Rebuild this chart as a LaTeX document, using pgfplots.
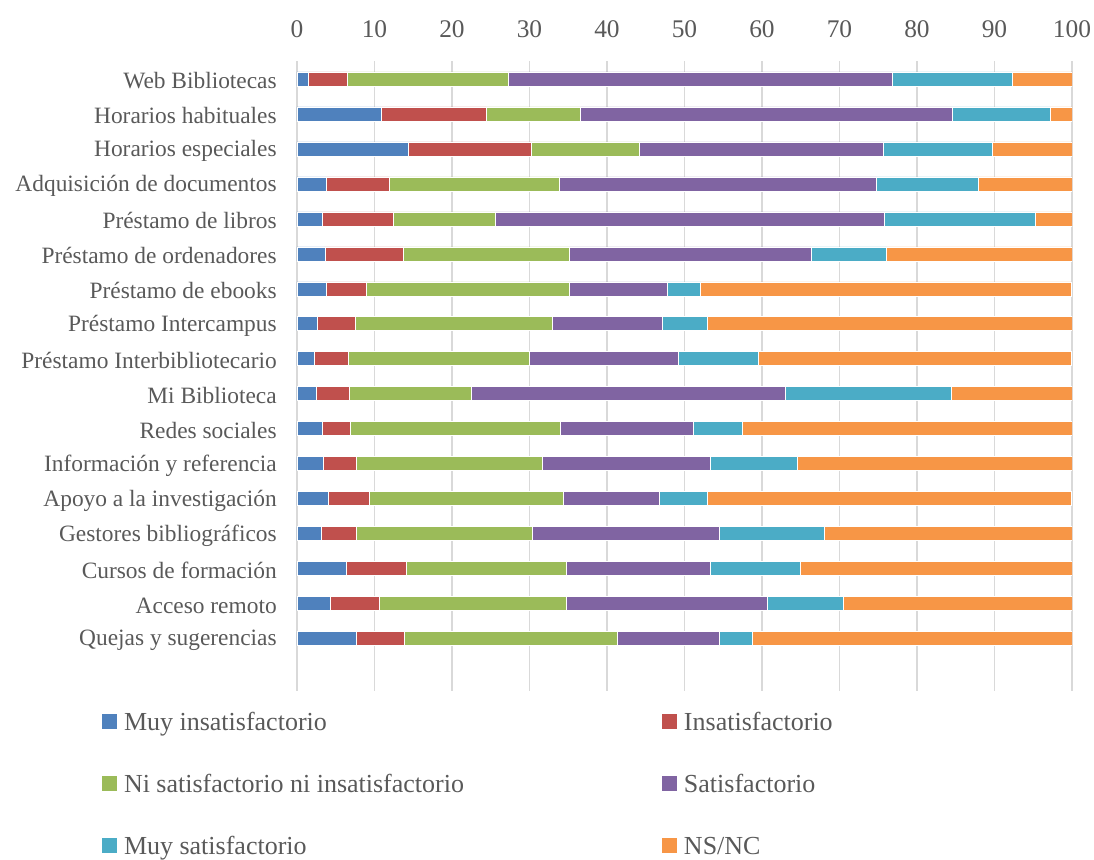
\documentclass[border=0pt]{standalone}
\usepackage{fontspec}
\setmainfont{Liberation Serif}
\usepackage{pgfplots}
\usepackage{pgfplotstable}
\pgfplotsset{compat=1.18}

\definecolor{cMI}{HTML}{4F81BD}
\definecolor{cIN}{HTML}{C0504D}
\definecolor{cNI}{HTML}{9BBB59}
\definecolor{cSA}{HTML}{8064A2}
\definecolor{cMS}{HTML}{4BACC6}
\definecolor{cNS}{HTML}{F79646}
\definecolor{txtgray}{HTML}{595959}
\definecolor{gridgray}{HTML}{D9D9D9}

% percentages per service, top to bottom
\pgfplotstableread{
idx mi   in   ni   sa   ms   ns
0   1.5  5.0  20.8 49.5 15.5 7.7
1   10.9 13.5 12.2 47.9 12.7 2.8
2   14.4 15.8 14.0 31.4 14.1 10.3
3   3.8  8.1  22.0 40.9 13.1 12.1
4   3.3  9.1  13.2 50.2 19.5 4.7
5   3.6  10.1 21.5 31.1 9.8  23.9
6   3.8  5.2  26.2 12.6 4.3  47.8
7   2.6  4.9  25.4 14.2 5.9  47.0
8   2.2  4.4  23.4 19.2 10.3 40.4
9   2.5  4.2  15.8 40.5 21.4 15.6
10  3.3  3.6  27.1 17.2 6.2  42.6
11  3.4  4.2  24.1 21.6 11.2 35.5
12  4.0  5.3  25.1 12.4 6.1  47.0
13  3.1  4.6  22.6 24.2 13.6 31.9
14  6.4  7.7  20.7 18.5 11.7 35.0
15  4.3  6.3  24.2 25.9 9.8  29.5
16  7.6  6.3  27.4 13.2 4.3  41.2
}\datos

\newcommand{\leg}[1]{\makebox[269pt][l]{#1}}

\begin{document}
\begin{tikzpicture}
\useasboundingbox (-148.5pt,-84.5pt) rectangle (398.5pt,345.5pt);
\begin{axis}[
  scale only axis, width=387.5pt, height=314.75pt,
  xbar stacked, bar width=7pt,
  xmin=0, xmax=100, ymin=-0.5, ymax=17.5, y dir=reverse,
  xtick={0,10,...,100}, xticklabel pos=upper,
  ytick={0,...,16},
  yticklabels={Web Bibliotecas, Horarios habituales, Horarios especiales,
    Adquisición de documentos, Préstamo de libros, Préstamo de ordenadores,
    Préstamo de ebooks, Préstamo Intercampus, Préstamo Interbibliotecario,
    Mi Biblioteca, Redes sociales, Información y referencia,
    Apoyo a la investigación, Gestores bibliográficos, Cursos de formación,
    Acceso remoto, Quejas y sugerencias},
  xmajorgrids, ymajorgrids=false,
  grid style={line width=0.9pt, gridgray},
  axis line style={draw=none}, major tick length=0pt,
  tick label style={text=txtgray},
  xticklabel style={font=\fontsize{12.7}{14}\selectfont, yshift=8.5pt,
    /pgf/number format/assume math mode=true},
  yticklabel style={font=\fontsize{11.7}{14}\selectfont, xshift=-6.6pt, yshift=-1pt},
  every axis plot/.append style={draw=white, line width=0.3pt},
  legend columns=2,
  legend cell align=left,
  legend image code/.code={\fill[#1, draw=none] (0pt,-3.75pt) rectangle (7.5pt,3.75pt);},
  legend style={draw=none, fill=none, inner sep=0pt, outer sep=0pt,
    at={(-0.2516,-0.0292)}, anchor=north west,
    font=\fontsize{13}{15}\selectfont, text=txtgray, row sep=18.4pt,
    nodes={inner sep=0pt, text height=10.6pt, text depth=2pt},
    /tikz/every odd column/.append style={column sep=3.5pt},
    /tikz/every even column/.append style={column sep=0pt}},
]
\addplot[fill=cMI] table[x=mi, y=idx] {\datos};
\addlegendentry{\leg{Muy insatisfactorio}}
\addplot[fill=cIN] table[x=in, y=idx] {\datos};
\addlegendentry{\leg{Insatisfactorio}}
\addplot[fill=cNI] table[x=ni, y=idx] {\datos};
\addlegendentry{\leg{Ni satisfactorio ni insatisfactorio}}
\addplot[fill=cSA] table[x=sa, y=idx] {\datos};
\addlegendentry{\leg{Satisfactorio}}
\addplot[fill=cMS] table[x=ms, y=idx] {\datos};
\addlegendentry{\leg{Muy satisfactorio}}
\addplot[fill=cNS] table[x=ns, y=idx] {\datos};
\addlegendentry{\leg{NS/NC}}
\end{axis}
\end{tikzpicture}
\end{document}
